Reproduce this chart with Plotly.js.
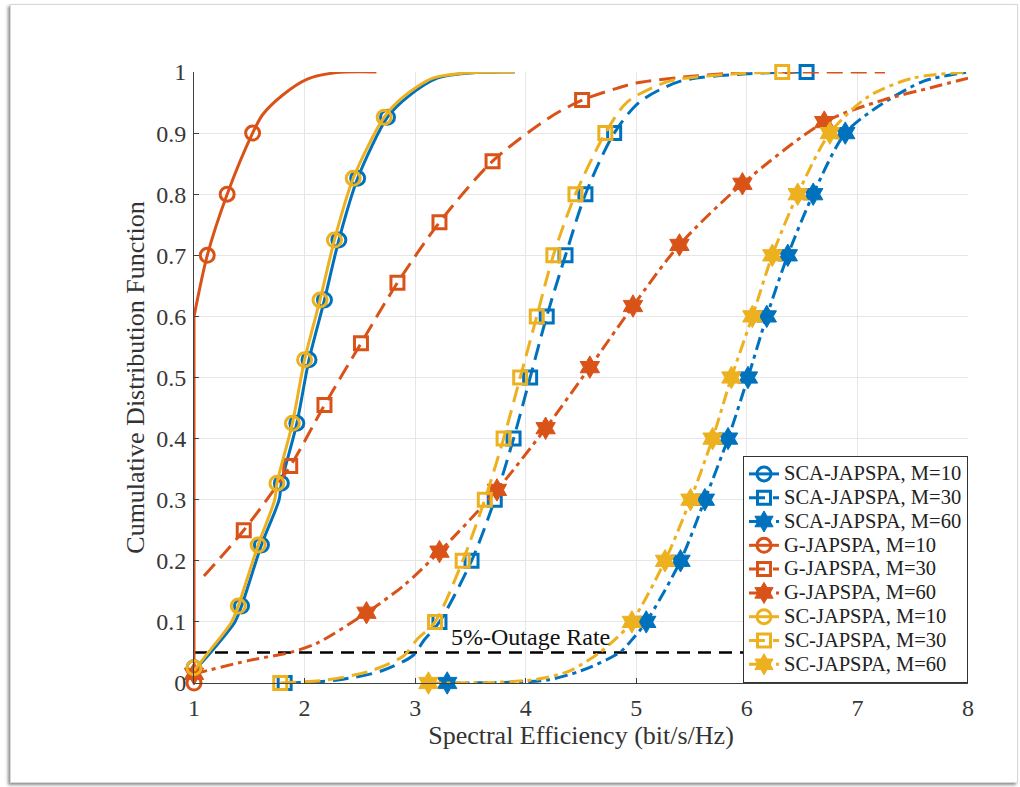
<!DOCTYPE html>
<html>
<head>
<meta charset="utf-8">
<script src="https://cdn.plot.ly/plotly-3.0.1.min.js"></script>
<style>
html,body{margin:0;padding:0;background:#fff;}
#wrap{position:relative;width:1020px;height:787px;overflow:hidden;}
#frame{position:absolute;left:10px;top:4px;width:1006px;height:777px;border:1px solid #d8d8d8;box-shadow:-2px 2px 3px rgba(0,0,0,0.45);background:#fff;}
#chart{position:absolute;left:0;top:0;width:1020px;height:787px;}
</style>
</head>
<body>
<div id="wrap"><div id="frame"></div><div id="chart"></div></div>
<script>
// ---- Data (x: spectral efficiency, y: CDF) ----
const names = ['SCA-JAPSPA, M=10','SCA-JAPSPA, M=30','SCA-JAPSPA, M=60',
               'G-JAPSPA, M=10','G-JAPSPA, M=30','G-JAPSPA, M=60',
               'SC-JAPSPA, M=10','SC-JAPSPA, M=30','SC-JAPSPA, M=60'];

// SCA-JAPSPA, M=10
const sca10X = [1.00,1.15,1.37,1.43,1.61,1.77,1.79,1.93,2.04,2.18,2.31,2.48,2.75,2.93,3.20,3.55,3.90];
const sca10Y = [0.02,0.05,0.10,0.126,0.226,0.30,0.327,0.425,0.529,0.627,0.725,0.826,0.926,0.959,0.99,0.999,1.0];
const sca10MX = [1.00,1.43,1.61,1.79,1.93,2.04,2.18,2.31,2.48,2.75];
const sca10MY = [0.025,0.126,0.226,0.327,0.425,0.529,0.627,0.725,0.826,0.926];
// SCA-JAPSPA, M=30
const sca30X = [1.82,2.30,2.70,2.98,3.08,3.22,3.51,3.72,3.89,4.04,4.19,4.36,4.54,4.80,5.03,5.40,6.00,6.54];
const sca30Y = [0.0,0.005,0.02,0.045,0.07,0.10,0.20,0.30,0.40,0.50,0.60,0.70,0.80,0.90,0.951,0.985,0.997,1.0];
const sca30MX = [1.82,3.22,3.51,3.72,3.89,4.04,4.19,4.36,4.54,4.80,6.54];
const sca30MY = [0.0,0.10,0.20,0.30,0.40,0.50,0.60,0.70,0.80,0.90,1.0];
// SCA-JAPSPA, M=60
const sca60X = [3.29,3.80,4.20,4.50,4.85,4.98,5.09,5.40,5.62,5.83,6.01,6.18,6.37,6.60,6.89,7.20,7.60,8.00];
const sca60Y = [0.0,0.001,0.005,0.02,0.05,0.075,0.10,0.20,0.30,0.40,0.50,0.60,0.70,0.80,0.90,0.945,0.985,1.0];
const sca60MX = [3.29,5.09,5.40,5.62,5.83,6.01,6.18,6.37,6.60,6.89];
const sca60MY = [0.0,0.10,0.20,0.30,0.40,0.50,0.60,0.70,0.80,0.90];

// G-JAPSPA, M=10 (vertical jump at x=1, then smooth rise; null splits the two parts)
const g10X = [1.00,1.00,null,1.00,1.12,1.30,1.53,1.62,1.80,2.02,2.29,2.65];
const g10Y = [0.0,0.60,null,0.60,0.70,0.80,0.90,0.93,0.962,0.988,0.999,1.0];
const g10MX = [1.00,1.12,1.30,1.53];
const g10MY = [0.0,0.70,0.80,0.90];
// G-JAPSPA, M=30
const g30X = [1.09,1.45,1.87,2.18,2.51,2.84,3.22,3.70,4.22,4.51,4.80,5.00,5.50,6.00,7.25];
const g30Y = [0.175,0.25,0.355,0.455,0.556,0.655,0.754,0.854,0.926,0.954,0.972,0.982,0.993,0.999,1.0];
const g30MX = [1.45,1.87,2.18,2.51,2.84,3.22,3.70,4.51];
const g30MY = [0.25,0.355,0.455,0.556,0.655,0.754,0.854,0.954];
// G-JAPSPA, M=60
const g60X = [1.00,1.50,1.87,2.11,2.56,2.90,3.22,3.74,4.18,4.58,4.97,5.39,5.96,6.70,7.23,7.68,8.00];
const g60Y = [0.015,0.037,0.05,0.065,0.115,0.16,0.215,0.316,0.417,0.517,0.617,0.717,0.817,0.918,0.954,0.975,0.99];
const g60MX = [1.00,2.56,3.22,3.74,4.18,4.58,4.97,5.39,5.96,6.70];
const g60MY = [0.015,0.115,0.215,0.316,0.417,0.517,0.617,0.717,0.817,0.918];

// SC-JAPSPA, M=10
const sc10X = [1.00,1.13,1.34,1.40,1.58,1.73,1.75,1.89,2.00,2.14,2.27,2.44,2.72,2.89,3.16,3.50,3.90];
const sc10Y = [0.02,0.05,0.10,0.126,0.226,0.30,0.327,0.425,0.529,0.627,0.725,0.826,0.926,0.959,0.99,0.999,1.0];
const sc10MX = [1.00,1.40,1.58,1.75,1.89,2.00,2.14,2.27,2.44,2.72];
const sc10MY = [0.025,0.126,0.226,0.327,0.425,0.529,0.627,0.725,0.826,0.926];
// SC-JAPSPA, M=30
const sc30X = [1.78,2.20,2.60,2.90,3.02,3.18,3.43,3.63,3.80,3.95,4.10,4.25,4.45,4.72,4.92,5.30,5.90,6.32];
const sc30Y = [0.0,0.005,0.02,0.045,0.072,0.10,0.20,0.30,0.40,0.50,0.60,0.70,0.80,0.90,0.951,0.985,0.997,1.0];
const sc30MX = [1.78,3.18,3.43,3.63,3.80,3.95,4.10,4.25,4.45,4.72,6.32];
const sc30MY = [0.0,0.10,0.20,0.30,0.40,0.50,0.60,0.70,0.80,0.90,1.0];
// SC-JAPSPA, M=60
const sc60X = [3.12,3.70,4.10,4.40,4.67,4.83,4.96,5.26,5.49,5.69,5.86,6.05,6.23,6.46,6.75,7.10,7.50,8.00];
const sc60Y = [0.0,0.001,0.006,0.02,0.05,0.075,0.10,0.20,0.30,0.40,0.50,0.60,0.70,0.80,0.90,0.96,0.99,1.0];
const sc60MX = [3.12,4.96,5.26,5.49,5.69,5.86,6.05,6.23,6.46,6.75];
const sc60MY = [0.0,0.10,0.20,0.30,0.40,0.50,0.60,0.70,0.80,0.90];

// 5% outage reference
const outageX = [1, 8];
const outageY = [0.05, 0.05];
const outageLabel = '5%-Outage Rate';

// ---- Styles ----
const BLUE = '#0072BD', ORANGE = '#D95319', YELLOW = '#EDB120';
const DASH = '16px,8px', DASHDOT = '13px,5px,4px,5px';
const series = [
  {x:sca10X,y:sca10Y,mx:sca10MX,my:sca10MY,c:BLUE,  dash:'solid', sym:'circle-open', ms:14, mlw:3},
  {x:sca30X,y:sca30Y,mx:sca30MX,my:sca30MY,c:BLUE,  dash:DASH,    sym:'square-open', ms:13, mlw:3},
  {x:sca60X,y:sca60Y,mx:sca60MX,my:sca60MY,c:BLUE,  dash:DASHDOT, sym:'hexagram',    ms:17, mlw:1},
  {x:g10X,  y:g10Y,  mx:g10MX,  my:g10MY,  c:ORANGE,dash:'solid', sym:'circle-open', ms:14, mlw:3},
  {x:g30X,  y:g30Y,  mx:g30MX,  my:g30MY,  c:ORANGE,dash:DASH,    sym:'square-open', ms:13, mlw:3},
  {x:g60X,  y:g60Y,  mx:g60MX,  my:g60MY,  c:ORANGE,dash:DASHDOT, sym:'hexagram',    ms:17, mlw:1},
  {x:sc10X, y:sc10Y, mx:sc10MX, my:sc10MY, c:YELLOW,dash:'solid', sym:'circle-open', ms:14, mlw:3},
  {x:sc30X, y:sc30Y, mx:sc30MX, my:sc30MY, c:YELLOW,dash:DASH,    sym:'square-open', ms:13, mlw:3},
  {x:sc60X, y:sc60Y, mx:sc60MX, my:sc60MY, c:YELLOW,dash:DASHDOT, sym:'hexagram',    ms:17, mlw:1}
];

const traces = [];
traces.push({x:outageX, y:outageY, mode:'lines', showlegend:false, hoverinfo:'skip',
  line:{color:'#000', width:2.5, dash:'13px,8px'}});
series.forEach((s,i) => {
  const g = 'g'+i;
  traces.push({x:s.x, y:s.y, mode:'lines', legendgroup:g, showlegend:false, cliponaxis:false, connectgaps:false,
    line:{color:s.c, width:3, dash:s.dash, shape:'spline', smoothing:0.8}});
  traces.push({x:s.mx, y:s.my, mode:'markers', legendgroup:g, showlegend:false, cliponaxis:false,
    marker:{symbol:s.sym, size:s.ms, color:s.c, line:{color:s.c, width:s.mlw}}});
  traces.push({x:[null], y:[null], mode:'lines+markers',
    name:'<span style="font-size:20.5px">' + names[i] + '</span>', legendgroup:g, showlegend:true,
    line:{color:s.c, width:3, dash:s.dash},
    marker:{symbol:s.sym, size:s.ms, color:s.c, line:{color:s.c, width:s.mlw}}});
});

const FONT = 'Liberation Serif, Times New Roman, serif';
const layout = {
  width:1020, height:787,
  paper_bgcolor:'rgba(0,0,0,0)', plot_bgcolor:'#fff',
  margin:{l:194, r:52, t:72, b:104},
  font:{family:FONT, color:'#333'},
  xaxis:{range:[1,8], dtick:1, tick0:1, showgrid:true, gridcolor:'#e6e6e6', gridwidth:1,
    showline:true, linecolor:'#404040', linewidth:1, ticks:'inside', ticklen:5, tickcolor:'#404040',
    ticklabelstandoff:3, zeroline:false, tickfont:{family:FONT, size:24, color:'#383838'},
    title:{text:'Spectral Efficiency (bit/s/Hz)', font:{family:FONT, size:26, color:'#333'}, standoff:6}},
  yaxis:{range:[0,1], dtick:0.1, tick0:0, showgrid:true, gridcolor:'#e6e6e6', gridwidth:1,
    showline:true, linecolor:'#404040', linewidth:1, ticks:'inside', ticklen:5, tickcolor:'#404040',
    ticklabelstandoff:2, zeroline:false, tickfont:{family:FONT, size:24, color:'#383838'},
    title:{text:'Cumulative Distribution Function', font:{family:FONT, size:26, color:'#333'}, standoff:4}},
  legend:{x:1, xanchor:'right', y:0, yanchor:'bottom', bgcolor:'#fff', bordercolor:'#333', borderwidth:1,
    font:{family:FONT, size:16, color:'#222'}, tracegroupgap:0},
  annotations:[{x:4.04, y:0.05, yanchor:'bottom', yshift:0, text:outageLabel, showarrow:false,
    font:{family:FONT, size:24, color:'#111'}}],
  showlegend:true
};
Plotly.newPlot('chart', traces, layout, {displayModeBar:false, staticPlot:true});
</script>
</body>
</html>
